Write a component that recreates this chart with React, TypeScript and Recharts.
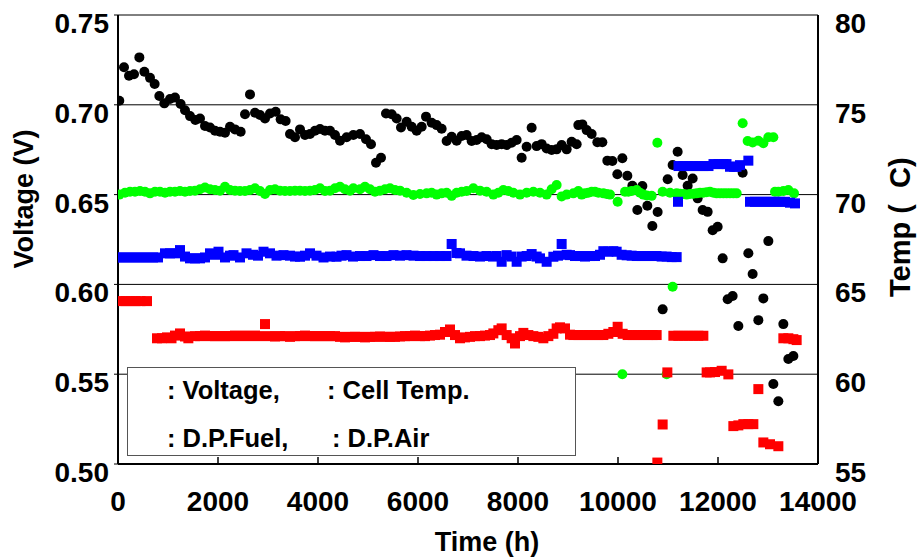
import React from 'react';
import { ScatterChart, Scatter, XAxis, YAxis, CartesianGrid, Legend } from 'recharts';

const FONT = '"Liberation Sans", Arial, Helvetica, sans-serif';

// ---- axis ticks ----
const timeTicks = [0, 2000, 4000, 6000, 8000, 10000, 12000, 14000];
const voltTicks = [0.5, 0.55, 0.6, 0.65, 0.7, 0.75];
const tempTicks = [55, 60, 65, 70, 75, 80];

// ---- series: [time (h), value] ----
const voltage: [number, number][] = [
  [26, 0.7023], [120, 0.7209], [220, 0.7162], [320, 0.717], [427, 0.7264], [527, 0.7184], [640, 0.715], [733, 0.7116],
  [827, 0.7049], [927, 0.7008], [1040, 0.7032], [1140, 0.704], [1253, 0.7004], [1340, 0.697], [1440, 0.6937], [1547, 0.6915],
  [1640, 0.6924], [1740, 0.6882], [1840, 0.6874], [1940, 0.6856], [2040, 0.685], [2140, 0.6844], [2240, 0.6878], [2340, 0.6863],
  [2453, 0.685], [2540, 0.6947], [2640, 0.7058], [2740, 0.6956], [2840, 0.6943], [2940, 0.6924], [3040, 0.6952], [3153, 0.6961],
  [3253, 0.6919], [3353, 0.691], [3440, 0.6837], [3540, 0.6819], [3640, 0.6863], [3740, 0.6832], [3840, 0.6837], [3940, 0.6856],
  [4040, 0.6865], [4140, 0.6856], [4240, 0.6856], [4340, 0.6832], [4440, 0.68], [4573, 0.6819], [4707, 0.6832], [4840, 0.6837],
  [4960, 0.6808], [5060, 0.678], [5160, 0.6677], [5260, 0.6705], [5360, 0.6952], [5473, 0.6947], [5573, 0.6924], [5660, 0.6874],
  [5773, 0.6906], [5873, 0.6878], [5973, 0.6856], [6073, 0.6878], [6160, 0.6934], [6273, 0.69], [6373, 0.6887], [6473, 0.6867],
  [6573, 0.6798], [6673, 0.6822], [6773, 0.68], [6873, 0.6826], [6973, 0.6832], [7073, 0.6798], [7173, 0.6804], [7273, 0.6819],
  [7373, 0.6808], [7473, 0.6781], [7573, 0.6776], [7673, 0.6781], [7773, 0.6776], [7873, 0.6789], [7973, 0.6804], [8073, 0.6705],
  [8173, 0.6766], [8273, 0.6872], [8373, 0.677], [8473, 0.6781], [8573, 0.6757], [8673, 0.6748], [8773, 0.6752], [8873, 0.6776],
  [8973, 0.6752], [9073, 0.6794], [9173, 0.678], [9207, 0.6887], [9287, 0.6891], [9373, 0.6859], [9473, 0.6837], [9587, 0.6791],
  [9687, 0.6791], [9787, 0.6689], [9887, 0.6687], [9987, 0.6613], [10087, 0.6702], [10187, 0.6605], [10287, 0.6549], [10387, 0.6414],
  [10487, 0.6548], [10587, 0.6438], [10687, 0.6325], [10793, 0.6403], [10893, 0.5861], [10993, 0.6585], [11093, 0.6665], [11193, 0.6739],
  [11293, 0.6609], [11393, 0.6549], [11493, 0.659], [11593, 0.6479], [11693, 0.6414], [11793, 0.6404], [11893, 0.6302], [11993, 0.6321],
  [12093, 0.6145], [12193, 0.5917], [12293, 0.5935], [12407, 0.5768], [12493, 0.6622], [12607, 0.6173], [12693, 0.6058], [12807, 0.5801],
  [12907, 0.5922], [13007, 0.6241], [13107, 0.5445], [13207, 0.5349], [13307, 0.5779], [13407, 0.5585], [13507, 0.5601],
];

const cellTemp: [number, number][] = [
  [27, 70.0], [140, 70.1], [240, 70.16], [340, 70.16], [440, 70.2], [540, 70.16], [640, 70.07], [740, 70.16], [840, 70.16],
  [940, 70.1], [1040, 70.16], [1140, 70.16], [1240, 70.2], [1340, 70.16], [1440, 70.2], [1540, 70.22], [1640, 70.3], [1740, 70.4],
  [1840, 70.3], [1940, 70.26], [2040, 70.22], [2140, 70.44], [2240, 70.26], [2340, 70.22], [2440, 70.2], [2540, 70.2], [2640, 70.26],
  [2740, 70.35], [2840, 70.2], [2940, 70.03], [3040, 70.26], [3140, 70.3], [3240, 70.22], [3340, 70.2], [3440, 70.2], [3540, 70.22],
  [3640, 70.22], [3740, 70.2], [3840, 70.22], [3940, 70.26], [4040, 70.35], [4140, 70.2], [4240, 70.22], [4340, 70.35], [4440, 70.44],
  [4540, 70.3], [4640, 70.22], [4707, 70.35], [4840, 70.3], [4940, 70.44], [5040, 70.3], [5140, 70.16], [5240, 70.22], [5340, 70.3],
  [5440, 70.35], [5540, 70.26], [5640, 70.22], [5773, 70.1], [5907, 69.98], [6040, 70.03], [6173, 70.07], [6273, 70.1], [6373, 70.0],
  [6473, 70.07], [6573, 70.1], [6673, 69.93], [6773, 70.1], [6873, 70.16], [6973, 70.2], [7107, 70.35], [7240, 70.22], [7373, 70.16],
  [7507, 70.0], [7607, 70.1], [7707, 70.26], [7807, 70.2], [7907, 70.1], [8040, 70.0], [8173, 70.1], [8307, 70.16], [8440, 70.1],
  [8573, 70.0], [8673, 70.3], [8773, 70.53], [8873, 69.9], [8973, 70.0], [9107, 70.07], [9207, 70.2], [9273, 70.0], [9340, 70.07],
  [9407, 70.1], [9473, 70.16], [9540, 70.16], [9607, 70.1], [9707, 70.07], [9773, 70.03], [9840, 70.0], [9993, 69.6], [10087, 60.0],
  [10140, 70.16], [10207, 70.16], [10273, 70.2], [10373, 70.26], [10440, 70.1], [10507, 70.0], [10573, 69.95], [10673, 69.93],
  [10787, 72.89], [10893, 70.16], [10973, 60.0], [11040, 70.1], [11093, 64.87], [11173, 70.07], [11240, 70.05], [11307, 70.03],
  [11373, 70.0], [11440, 70.03], [11507, 70.05], [11573, 70.07], [11640, 70.1], [11707, 70.1], [11773, 70.13], [11840, 70.16],
  [11907, 70.1], [11973, 70.07], [12040, 70.07], [12107, 70.07], [12173, 70.07], [12240, 70.07], [12307, 70.07], [12373, 70.07],
  [12493, 73.97], [12593, 72.98], [12693, 72.9], [12807, 73.0], [12907, 72.86], [13007, 73.19], [13107, 73.19], [13140, 70.16],
  [13207, 70.16], [13307, 70.2], [13407, 70.26], [13520, 70.07],
];

const dpFuel: [number, number][] = [
  [0, 0.615], [100, 0.615], [200, 0.615], [300, 0.615], [400, 0.615], [500, 0.615], [600, 0.615], [700, 0.615], [800, 0.615],
  [940, 0.6173], [1040, 0.6173], [1140, 0.6173], [1240, 0.6191], [1340, 0.6155], [1440, 0.6145], [1540, 0.6145], [1640, 0.6145],
  [1740, 0.615], [1840, 0.6173], [1940, 0.6165], [2010, 0.6182], [2140, 0.615], [2240, 0.616], [2310, 0.6163], [2440, 0.615],
  [2570, 0.6173], [2700, 0.6165], [2800, 0.616], [2910, 0.6182], [3040, 0.6173], [3170, 0.616], [3310, 0.6163], [3440, 0.616],
  [3540, 0.6155], [3640, 0.6154], [3740, 0.616], [3840, 0.6173], [3970, 0.616], [4110, 0.615], [4240, 0.6155], [4370, 0.6154],
  [4470, 0.616], [4570, 0.6163], [4700, 0.6155], [4840, 0.6158], [4970, 0.6158], [5110, 0.6163], [5240, 0.6158], [5370, 0.6158],
  [5510, 0.6163], [5640, 0.616], [5770, 0.6163], [5910, 0.616], [6040, 0.6158], [6170, 0.6158], [6310, 0.6158], [6440, 0.6158],
  [6570, 0.6158], [6673, 0.6225], [6770, 0.6175], [6840, 0.6173], [6970, 0.616], [7110, 0.6158], [7240, 0.6155], [7370, 0.6158],
  [7500, 0.6155], [7573, 0.6158], [7673, 0.6126], [7773, 0.6163], [7870, 0.6155], [7973, 0.6126], [8073, 0.6155], [8173, 0.6158],
  [8273, 0.6169], [8373, 0.6155], [8440, 0.6145], [8573, 0.6126], [8707, 0.6154], [8800, 0.616], [8873, 0.6225], [8973, 0.6165],
  [9040, 0.6163], [9140, 0.6158], [9240, 0.6158], [9340, 0.6155], [9440, 0.6158], [9540, 0.6158], [9640, 0.6165], [9707, 0.6185],
  [9807, 0.6182], [9907, 0.6185], [9973, 0.6182], [10073, 0.6165], [10173, 0.6162], [10273, 0.616], [10373, 0.6158], [10473, 0.6158],
  [10573, 0.6158], [10673, 0.6158], [10773, 0.6158], [10873, 0.6155], [10973, 0.6155], [11073, 0.6152], [11173, 0.6152],
  [11200, 0.646],
  [11210, 0.6659], [11310, 0.6659], [11410, 0.6659], [11510, 0.6659], [11610, 0.6659], [11710, 0.6659], [11810, 0.6659],
  [11910, 0.667], [12010, 0.667], [12110, 0.667], [12170, 0.667], [12240, 0.6655], [12320, 0.6655], [12370, 0.6655],
  [12440, 0.6664], [12607, 0.6689],
  [12640, 0.646], [12740, 0.646], [12840, 0.646], [12940, 0.646], [13040, 0.646], [13140, 0.646], [13240, 0.646],
  [13340, 0.646], [13440, 0.6455], [13540, 0.6451],
];

const dpAir: [number, number][] = [
  [50, 0.5907], [150, 0.5907], [250, 0.5907], [350, 0.5907], [450, 0.5907], [580, 0.5907],
  [780, 0.57], [880, 0.57], [980, 0.5705], [1070, 0.57], [1140, 0.5715], [1240, 0.5727], [1340, 0.571], [1407, 0.57],
  [1540, 0.5712], [1640, 0.5712], [1740, 0.5715], [1840, 0.5712], [1940, 0.5712], [2040, 0.5712], [2140, 0.5712], [2240, 0.5712],
  [2340, 0.5715], [2440, 0.5712], [2540, 0.5715], [2640, 0.5712], [2740, 0.5715], [2840, 0.5712], [2940, 0.5779], [3040, 0.5712],
  [3140, 0.571], [3240, 0.5712], [3340, 0.5712], [3440, 0.5708], [3540, 0.5712], [3640, 0.5712], [3740, 0.5715], [3840, 0.5712],
  [3940, 0.5712], [4040, 0.5712], [4140, 0.5712], [4240, 0.5712], [4340, 0.5712], [4440, 0.5708], [4540, 0.5705], [4640, 0.5708],
  [4740, 0.5708], [4840, 0.5708], [4940, 0.5705], [5040, 0.5708], [5140, 0.5708], [5240, 0.571], [5340, 0.5708], [5440, 0.5708],
  [5540, 0.5708], [5640, 0.571], [5740, 0.5712], [5840, 0.5712], [5940, 0.5715], [6040, 0.5712], [6140, 0.5712], [6240, 0.5715],
  [6340, 0.5718], [6440, 0.572], [6540, 0.5735], [6640, 0.5749], [6740, 0.5718], [6840, 0.57], [6940, 0.5705], [7040, 0.5708],
  [7140, 0.5712], [7240, 0.5712], [7340, 0.5715], [7440, 0.5718], [7507, 0.5727], [7607, 0.5745], [7673, 0.5755], [7773, 0.5718],
  [7873, 0.57], [7940, 0.5671], [8040, 0.5712], [8107, 0.573], [8207, 0.5718], [8307, 0.5712], [8407, 0.5708], [8507, 0.57],
  [8607, 0.5712], [8707, 0.5725], [8773, 0.5755], [8840, 0.5761], [8940, 0.5755], [9040, 0.572], [9107, 0.5718], [9207, 0.5718],
  [9307, 0.5718], [9407, 0.5718], [9507, 0.5718], [9607, 0.5718], [9707, 0.5718], [9807, 0.5725], [9907, 0.5735], [9993, 0.5764],
  [10093, 0.5725], [10193, 0.5718], [10293, 0.5718], [10393, 0.5718], [10493, 0.5718], [10593, 0.5718], [10693, 0.5718],
  [10773, 0.5718], [10787, 0.5008], [10893, 0.522], [10987, 0.551],
  [11107, 0.5714], [11207, 0.5714], [11307, 0.5714], [11407, 0.5714], [11507, 0.5714], [11607, 0.5714], [11707, 0.5714],
  [11773, 0.551], [11840, 0.551], [11940, 0.5512], [12073, 0.5519], [12207, 0.5499],
  [12307, 0.5211], [12407, 0.5215], [12507, 0.5222], [12607, 0.5222], [12707, 0.5222], [12807, 0.5417],
  [12907, 0.512], [13040, 0.511], [13207, 0.5099],
  [13307, 0.57], [13407, 0.57], [13507, 0.5695], [13573, 0.569],
];

const legendLabels = [': Voltage,', ': Cell Temp.', ': D.P.Fuel,', ': D.P.Air'];

const toPts = (arr: [number, number][]) => arr.map(([t, v]) => ({ t, v }));

const dotShape = (color: string) => (p: any) => <circle cx={p.cx} cy={p.cy} r={5} fill={color} />;
const squareShape = (color: string) => (p: any) => (
  <rect x={p.cx - 5} y={p.cy - 5} width={10} height={10} fill={color} />
);

const txt = { fontFamily: FONT, fontWeight: 'bold' as const, fill: '#000' };

const XTick = (props: any) => {
  const { x, y, payload } = props;
  return (
    <g>
      <line x1={x} x2={x} y1={y} y2={y - 7} stroke="#000" strokeWidth={1.5} />
      <text x={x} y={y + 47} textAnchor="middle" fontSize={28} {...txt}>{payload.value}</text>
    </g>
  );
};

const LeftTick = (props: any) => {
  const { x, y, payload } = props;
  return (
    <g>
      <line x1={x - 4} x2={x} y1={y} y2={y} stroke="#000" strokeWidth={1} />
      <text x={x - 9} y={y + 18} textAnchor="end" fontSize={28} {...txt}>{Number(payload.value).toFixed(2)}</text>
    </g>
  );
};

const RightTick = (props: any) => {
  const { x, y, payload } = props;
  return (
    <text x={x + 17} y={y + 18} textAnchor="start" fontSize={28} {...txt}>{payload.value}</text>
  );
};

const LegendBox = () => (
  <div style={{ width: 449, height: 89, boxSizing: 'border-box', border: '1.5px solid #555', background: '#fff', position: 'relative' }}>
    <svg width={446} height={86} style={{ position: 'absolute', left: 0, top: 0 }}>
      <text x={39} y={31} fontSize={25.5} {...txt}>{legendLabels[0]}</text>
      <text x={199} y={31} fontSize={25.5} {...txt}>{legendLabels[1]}</text>
      <text x={39} y={79} fontSize={25.5} {...txt}>{legendLabels[2]}</text>
      <text x={204} y={79} fontSize={25.5} {...txt}>{legendLabels[3]}</text>
    </svg>
  </div>
);

export default function App() {
  return (
    <div style={{ position: 'absolute', left: 0, top: 0, width: 922, height: 558, background: '#fff' }}>
      <ScatterChart width={922} height={558} margin={{ top: 15, right: 0, bottom: 0, left: 0 }}>
        <CartesianGrid yAxisId="left" vertical={false} horizontal stroke="#000" strokeWidth={1} />
        <XAxis
          type="number"
          dataKey="t"
          domain={[0, 14000]}
          ticks={timeTicks}
          interval={0}
          height={94}
          tickSize={0}
          tickMargin={0}
          tick={<XTick />}
          axisLine={{ stroke: '#000', strokeWidth: 2 }}
          tickLine={false}
          allowDataOverflow
          label={{
            content: () => (
              <text x={487} y={551} textAnchor="middle" fontSize={27} {...txt}>Time (h)</text>
            ),
          }}
        />
        <YAxis
          yAxisId="left"
          type="number"
          dataKey="v"
          domain={[0.5, 0.75]}
          ticks={voltTicks}
          interval={0}
          width={118}
          tickSize={0}
          tickMargin={0}
          tick={<LeftTick />}
          axisLine={{ stroke: '#000', strokeWidth: 2 }}
          tickLine={false}
          allowDataOverflow
          label={{
            content: () => (
              <text x={33} y={199} transform="rotate(-90 33 199)" textAnchor="middle" fontSize={27} {...txt}>Voltage (V)</text>
            ),
          }}
        />
        <YAxis
          yAxisId="right"
          orientation="right"
          type="number"
          dataKey="v"
          domain={[55, 80]}
          ticks={tempTicks}
          interval={0}
          width={104}
          tickSize={0}
          tickMargin={0}
          tick={<RightTick />}
          axisLine={{ stroke: '#000', strokeWidth: 2 }}
          tickLine={false}
          allowDataOverflow
          label={{
            content: () => (
              <text x={910} y={297} transform="rotate(-90 910 297)" textAnchor="start" fontSize={29} xmlSpace="preserve" style={{ whiteSpace: 'pre' }} {...txt}>{'Temp (  C)'}</text>
            ),
          }}
        />
        <Legend
          layout="horizontal"
          verticalAlign="middle"
          align="center"
          wrapperStyle={{ left: 127, top: 367, width: 449, height: 89 }}
          content={<LegendBox />}
        />
        <Scatter name="Voltage" yAxisId="left" data={toPts(voltage)} shape={dotShape('#000000')} isAnimationActive={false} />
        <Scatter name="Cell Temp." yAxisId="right" data={toPts(cellTemp)} shape={dotShape('#00ff00')} isAnimationActive={false} />
        <Scatter name="D.P.Fuel" yAxisId="left" data={toPts(dpFuel)} shape={squareShape('#0000ff')} isAnimationActive={false} />
        <Scatter name="D.P.Air" yAxisId="left" data={toPts(dpAir)} shape={squareShape('#ff0000')} isAnimationActive={false} />
      </ScatterChart>
    </div>
  );
}
